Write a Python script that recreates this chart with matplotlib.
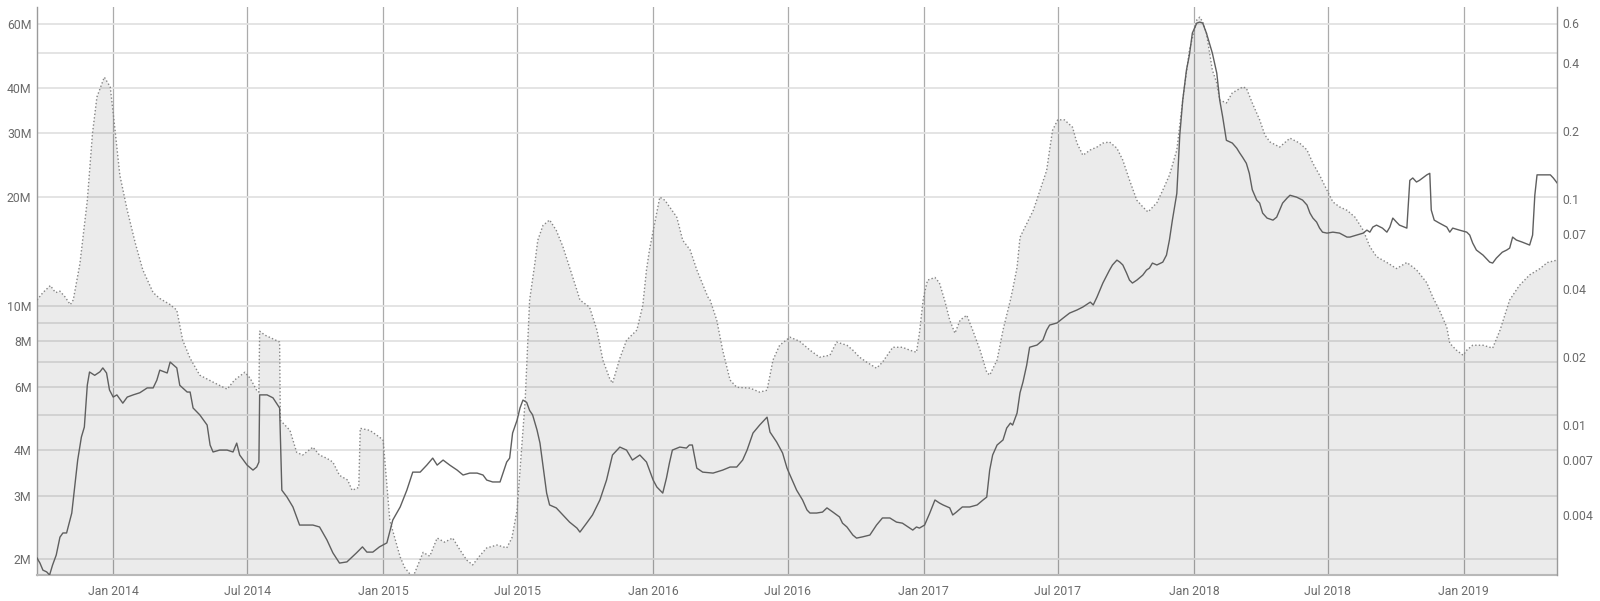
import matplotlib
matplotlib.use('Agg')
import matplotlib.pyplot as plt
import matplotlib.dates as mdates
from matplotlib.ticker import FixedLocator, FixedFormatter, NullFormatter
import numpy as np
import pandas as pd

plt.rcParams['font.family'] = ['Roboto', 'DejaVu Sans']

# ---- dotted / shaded series (left axis, millions) ----
area_dates = [
 '2013-09-20','2013-09-28','2013-10-08','2013-10-15','2013-10-21','2013-10-28','2013-11-04','2013-11-08',
 '2013-11-17','2013-11-27','2013-12-04','2013-12-10','2013-12-20','2013-12-28','2014-01-02','2014-01-10',
 '2014-01-20','2014-01-31','2014-02-10','2014-02-24','2014-03-05','2014-03-19','2014-03-28','2014-04-05',
 '2014-04-15','2014-04-28','2014-05-16','2014-06-04','2014-06-14','2014-06-28','2014-07-05','2014-07-14',
 '2014-07-17','2014-07-18','2014-07-25','2014-08-03','2014-08-14','2014-08-15','2014-08-28','2014-09-06',
 '2014-09-14','2014-09-28','2014-10-07','2014-10-17','2014-10-25','2014-11-03','2014-11-14','2014-11-20',
 '2014-11-26','2014-11-29','2014-12-01','2014-12-14','2014-12-27','2015-01-01','2015-01-10','2015-01-24',
 '2015-01-30','2015-02-10','2015-02-17','2015-02-24','2015-03-05','2015-03-15','2015-03-25','2015-04-05',
 '2015-04-15','2015-04-24','2015-05-02','2015-05-12','2015-05-21','2015-06-04','2015-06-17','2015-06-24',
 '2015-07-01','2015-07-05','2015-07-12','2015-07-18','2015-07-25','2015-07-29','2015-08-05','2015-08-14',
 '2015-08-23','2015-09-01','2015-09-10','2015-09-21','2015-09-24','2015-10-07','2015-10-17','2015-10-25',
 '2015-11-03','2015-11-07','2015-11-17','2015-11-26','2015-12-10','2015-12-18','2015-12-23','2015-12-27',
 '2016-01-03','2016-01-10','2016-01-17','2016-01-24','2016-02-02','2016-02-10','2016-02-20','2016-02-29',
 '2016-03-15','2016-03-18','2016-03-27','2016-04-04','2016-04-14','2016-04-23','2016-05-11','2016-05-24',
 '2016-06-03','2016-06-11','2016-06-20','2016-07-04','2016-07-17','2016-07-31','2016-08-13','2016-08-27',
 '2016-09-05','2016-09-19','2016-09-27','2016-10-06','2016-10-16','2016-10-29','2016-11-06','2016-11-20',
 '2016-12-03','2016-12-13','2016-12-22','2016-12-26','2016-12-31','2017-01-02','2017-01-06','2017-01-16',
 '2017-01-22','2017-01-29','2017-02-05','2017-02-12','2017-02-19','2017-02-28','2017-03-08','2017-03-18',
 '2017-03-27','2017-03-31','2017-04-10','2017-04-18','2017-04-28','2017-05-01','2017-05-07','2017-05-11',
 '2017-05-20','2017-05-29','2017-06-07','2017-06-16','2017-06-20','2017-06-24','2017-07-01','2017-07-10',
 '2017-07-21','2017-07-27','2017-08-04','2017-08-14','2017-08-23','2017-08-31','2017-09-09','2017-09-19',
 '2017-09-27','2017-10-06','2017-10-16','2017-10-24','2017-10-31','2017-11-12','2017-11-20','2017-11-29',
 '2017-12-09','2017-12-17','2017-12-26','2018-01-05','2018-01-09','2018-01-13','2018-01-18','2018-01-26',
 '2018-02-01','2018-02-05','2018-02-14','2018-02-22','2018-03-08','2018-03-13','2018-03-21','2018-03-31',
 '2018-04-07','2018-04-14','2018-04-27','2018-05-11','2018-05-24','2018-06-03','2018-06-11','2018-06-20',
 '2018-06-30','2018-07-08','2018-07-17','2018-07-27','2018-08-07','2018-08-18','2018-08-27','2018-09-05',
 '2018-09-19','2018-10-02','2018-10-16','2018-10-29','2018-11-12','2018-11-20','2018-11-29','2018-12-09',
 '2018-12-13','2018-12-22','2018-12-31','2019-01-05','2019-01-13','2019-01-27','2019-02-09','2019-02-19',
 '2019-03-04','2019-03-17','2019-03-31','2019-04-14','2019-04-24','2019-05-07']
area_values_m = [
 10.4,10.9,11.4,10.9,11.0,10.6,10.1,10.4,
 13.1,19.6,30.0,37.8,42.9,40.3,32.7,23.0,
 18.4,14.9,12.6,10.9,10.5,10.1,9.75,8.05,
 7.18,6.45,6.17,5.90,6.25,6.57,6.33,5.86,
 5.79,8.53,8.32,8.16,7.96,4.84,4.54,3.95,
 3.88,4.08,3.88,3.80,3.71,3.41,3.31,3.10,
 3.14,3.16,4.60,4.54,4.35,4.26,2.56,2.03,
 1.90,1.78,1.93,2.09,2.04,2.29,2.23,2.29,
 2.12,1.99,1.93,2.05,2.15,2.19,2.15,2.29,
 2.73,3.52,5.50,10.4,13.1,15.2,16.7,17.3,
 16.2,14.6,12.8,10.9,10.4,9.94,8.59,7.10,
 6.33,6.13,7.18,8.05,8.59,10.06,12.6,14.3,
 16.9,20.0,19.6,18.7,17.6,15.2,14.3,12.6,
 10.6,10.4,9.15,7.56,6.25,5.97,5.94,5.79,
 5.86,7.10,7.80,8.21,8.00,7.56,7.23,7.32,
 7.96,7.80,7.56,7.23,7.00,6.74,7.00,7.70,
 7.70,7.56,7.46,8.42,10.4,10.9,11.8,12.0,
 11.6,10.4,9.15,8.42,9.15,9.44,8.59,7.56,
 6.57,6.45,7.10,8.59,10.4,11.1,12.8,15.5,
 16.9,18.4,20.9,23.7,27.0,30.6,32.7,32.7,
 31.2,28.2,26.1,27.0,27.5,28.2,28.4,27.3,
 25.3,22.3,19.6,18.8,18.2,19.3,20.9,23.0,
 27.0,37.1,50.9,61.7,62.8,60.9,56.8,44.9,
 41.3,37.1,36.4,38.8,40.3,40.0,36.4,32.7,
 29.7,28.4,27.5,29.1,28.2,27.0,24.8,23.0,
 20.9,19.4,18.8,18.4,17.6,16.2,14.6,13.7,
 13.2,12.7,13.2,12.6,11.6,10.6,9.75,8.75,
 7.90,7.56,7.32,7.56,7.80,7.80,7.66,8.59,
 10.4,11.4,12.2,12.7,13.2,13.4]

# ---- solid series (right axis) ----
line_dates = [
 '2013-09-20','2013-09-24','2013-09-28','2013-10-03','2013-10-07','2013-10-11','2013-10-16','2013-10-21',
 '2013-10-25','2013-10-30','2013-11-06','2013-11-10','2013-11-14','2013-11-19','2013-11-23','2013-11-27',
 '2013-11-30','2013-12-07','2013-12-14','2013-12-18','2013-12-23','2013-12-27','2014-01-01','2014-01-06',
 '2014-01-14','2014-01-20','2014-01-28','2014-02-06','2014-02-16','2014-02-24','2014-03-01','2014-03-05',
 '2014-03-15','2014-03-19','2014-03-28','2014-04-01','2014-04-11','2014-04-15','2014-04-19','2014-04-28',
 '2014-05-08','2014-05-12','2014-05-16','2014-05-25','2014-06-04','2014-06-12','2014-06-17','2014-06-21',
 '2014-07-01','2014-07-09','2014-07-14','2014-07-17','2014-07-18','2014-07-28','2014-08-05','2014-08-14',
 '2014-08-17','2014-08-24','2014-09-01','2014-09-10','2014-09-20','2014-09-28','2014-10-07','2014-10-17',
 '2014-10-25','2014-11-03','2014-11-13','2014-11-26','2014-12-04','2014-12-10','2014-12-18','2014-12-27',
 '2015-01-06','2015-01-14','2015-01-24','2015-02-02','2015-02-10','2015-02-20','2015-03-01','2015-03-09',
 '2015-03-15','2015-03-23','2015-04-01','2015-04-11','2015-04-19','2015-04-28','2015-05-08','2015-05-16',
 '2015-05-21','2015-05-29','2015-06-08','2015-06-17','2015-06-21','2015-06-25','2015-07-01','2015-07-05',
 '2015-07-09','2015-07-14','2015-07-18','2015-07-22','2015-07-28','2015-08-01','2015-08-05','2015-08-10',
 '2015-08-14','2015-08-23','2015-09-01','2015-09-10','2015-09-20','2015-09-24','2015-10-03','2015-10-11',
 '2015-10-21','2015-10-30','2015-11-07','2015-11-17','2015-11-26','2015-12-04','2015-12-14','2015-12-23',
 '2016-01-01','2016-01-06','2016-01-14','2016-01-19','2016-01-23','2016-01-27','2016-02-06','2016-02-15',
 '2016-02-19','2016-02-23','2016-02-29','2016-03-08','2016-03-22','2016-04-04','2016-04-14','2016-04-23',
 '2016-05-01','2016-05-07','2016-05-15','2016-05-24','2016-06-03','2016-06-07','2016-06-16','2016-06-24',
 '2016-06-30','2016-07-04','2016-07-13','2016-07-21','2016-07-27','2016-07-31','2016-08-09','2016-08-17',
 '2016-08-23','2016-08-31','2016-09-09','2016-09-13','2016-09-19','2016-09-27','2016-10-02','2016-10-10',
 '2016-10-20','2016-10-29','2016-11-06','2016-11-16','2016-11-25','2016-12-03','2016-12-17','2016-12-22',
 '2016-12-26','2017-01-02','2017-01-09','2017-01-16','2017-01-22','2017-01-27','2017-02-05','2017-02-09',
 '2017-02-14','2017-02-22','2017-03-04','2017-03-14','2017-03-22','2017-03-27','2017-03-31','2017-04-04',
 '2017-04-10','2017-04-18','2017-04-23','2017-04-28','2017-05-01','2017-05-07','2017-05-11','2017-05-15',
 '2017-05-20','2017-05-24','2017-06-03','2017-06-11','2017-06-16','2017-06-20','2017-06-30','2017-07-08',
 '2017-07-17','2017-07-27','2017-08-04','2017-08-14','2017-08-18','2017-08-23','2017-08-31','2017-09-09',
 '2017-09-13','2017-09-19','2017-09-23','2017-09-27','2017-10-02','2017-10-06','2017-10-10','2017-10-16',
 '2017-10-24','2017-10-29','2017-11-02','2017-11-06','2017-11-12','2017-11-20','2017-11-25','2017-11-29',
 '2017-12-03','2017-12-09','2017-12-13','2017-12-17','2017-12-22','2017-12-26','2017-12-30','2018-01-05',
 '2018-01-09','2018-01-13','2018-01-18','2018-01-22','2018-01-26','2018-02-01','2018-02-05','2018-02-09',
 '2018-02-14','2018-02-22','2018-02-28','2018-03-04','2018-03-08','2018-03-13','2018-03-17','2018-03-21',
 '2018-03-27','2018-03-31','2018-04-04','2018-04-10','2018-04-18','2018-04-23','2018-04-27','2018-05-01',
 '2018-05-07','2018-05-11','2018-05-20','2018-05-28','2018-06-03','2018-06-07','2018-06-11','2018-06-16',
 '2018-06-20','2018-06-24','2018-06-30','2018-07-08','2018-07-17','2018-07-27','2018-07-31','2018-08-09',
 '2018-08-18','2018-08-23','2018-08-27','2018-08-31','2018-09-05','2018-09-13','2018-09-19','2018-09-23',
 '2018-09-27','2018-10-02','2018-10-06','2018-10-16','2018-10-20','2018-10-24','2018-10-29','2018-11-02',
 '2018-11-12','2018-11-16','2018-11-18','2018-11-22','2018-11-29','2018-12-09','2018-12-13','2018-12-17',
 '2018-12-26','2019-01-05','2019-01-09','2019-01-13','2019-01-18','2019-01-27','2019-02-05','2019-02-09',
 '2019-02-14','2019-02-18','2019-02-22','2019-02-28','2019-03-04','2019-03-08','2019-03-13','2019-03-21',
 '2019-03-31','2019-04-04','2019-04-07','2019-04-10','2019-04-18','2019-04-28','2019-05-02','2019-05-07']
line_values = [
 0.00258,0.00245,0.00228,0.00224,0.00217,0.00240,0.00266,0.00319,
 0.00333,0.00333,0.00408,0.00532,0.00700,0.00885,0.00980,0.01503,
 0.01717,0.0166,0.0172,0.0179,0.0170,0.0143,0.0133,0.0136,
 0.0125,0.0133,0.0136,0.0139,0.0146,0.0146,0.0158,0.0175,
 0.0170,0.0190,0.0179,0.0150,0.0140,0.0140,0.0119,0.0111,
 0.0100,0.00816,0.00760,0.00775,0.00775,0.00760,0.00832,0.00737,
 0.00665,0.00632,0.00652,0.00686,0.0136,0.0136,0.0132,0.0119,
 0.00515,0.00480,0.00434,0.00361,0.00361,0.00361,0.00354,0.00310,
 0.00272,0.00245,0.00248,0.00272,0.00289,0.00274,0.00274,0.00289,
 0.00301,0.00380,0.00434,0.00515,0.00619,0.00619,0.00665,0.00714,
 0.00665,0.00700,0.00665,0.00632,0.00601,0.00613,0.00613,0.00601,
 0.00571,0.00560,0.00560,0.00686,0.00714,0.00922,0.0105,0.0119,
 0.0129,0.0126,0.0116,0.0111,0.00951,0.00832,0.00665,0.00500,
 0.00443,0.00430,0.00400,0.00372,0.00350,0.00336,0.00368,0.00400,
 0.00466,0.00571,0.00737,0.00799,0.00775,0.00700,0.00737,0.00686,
 0.00571,0.00532,0.00500,0.00583,0.00679,0.00775,0.00799,0.00791,
 0.00816,0.00816,0.00645,0.00619,0.00613,0.00632,0.00652,0.00652,
 0.00700,0.00775,0.00922,0.0100,0.01084,0.00931,0.00841,0.00752,
 0.00645,0.00601,0.00515,0.00466,0.00421,0.00408,0.00408,0.00412,
 0.00430,0.00412,0.00392,0.00368,0.00354,0.00326,0.00316,0.00320,
 0.00326,0.00361,0.00388,0.00388,0.00372,0.00368,0.00343,0.00354,
 0.00350,0.00361,0.00408,0.00466,0.00452,0.00443,0.00430,0.00400,
 0.00412,0.00434,0.00434,0.00443,0.00466,0.00480,0.00632,0.00737,
 0.00816,0.00859,0.00970,0.0102,0.0100,0.0113,0.0139,0.0155,
 0.0184,0.0221,0.0226,0.0238,0.0263,0.0277,0.0283,0.0297,
 0.0313,0.0323,0.0333,0.0350,0.0340,0.0368,0.0425,0.0485,
 0.0511,0.0537,0.0526,0.0511,0.0471,0.0438,0.0425,0.0438,
 0.0461,0.0485,0.0495,0.0521,0.0511,0.0526,0.0565,0.0659,
 0.0807,0.106,0.192,0.274,0.372,0.434,0.543,0.601,
 0.607,0.601,0.543,0.490,0.443,0.361,0.274,0.231,
 0.182,0.177,0.168,0.160,0.153,0.144,0.130,0.110,
 0.0990,0.0960,0.0867,0.0824,0.0807,0.0832,0.0894,0.0960,
 0.101,0.104,0.102,0.0990,0.0941,0.0867,0.0824,0.0791,
 0.0744,0.0714,0.0707,0.0714,0.0707,0.0679,0.0679,0.0693,
 0.0707,0.0729,0.0714,0.0752,0.0767,0.0744,0.0714,0.0752,
 0.0824,0.0791,0.0767,0.0744,0.121,0.124,0.119,0.121,
 0.128,0.130,0.0894,0.0807,0.0783,0.0752,0.0714,0.0744,
 0.0729,0.0714,0.0693,0.0639,0.0595,0.0565,0.0526,0.0521,
 0.0548,0.0565,0.0582,0.0595,0.0607,0.0679,0.0659,0.0645,
 0.0626,0.0693,0.104,0.128,0.128,0.128,0.124,0.118]

# ---- axes ticks ----
left_ticks_m = [2, 3, 4, 6, 8, 10, 20, 30, 40, 60]
left_tick_labels = ['2M', '3M', '4M', '6M', '8M', '10M', '20M', '30M', '40M', '60M']
left_minor_m = [5, 7, 9, 50]
right_ticks = [0.004, 0.007, 0.01, 0.02, 0.04, 0.07, 0.1, 0.2, 0.4, 0.6]
right_tick_labels = ['0.004', '0.007', '0.01', '0.02', '0.04', '0.07', '0.1', '0.2', '0.4', '0.6']
x_tick_dates = ['2014-01-01', '2014-07-01', '2015-01-01', '2015-07-01', '2016-01-01', '2016-07-01',
                '2017-01-01', '2017-07-01', '2018-01-01', '2018-07-01', '2019-01-01']
x_range = ['2013-09-20', '2019-05-07']
left_range_m = (1.81, 67.0)
right_range = (0.00217, 0.708)

label_color = '#6b6b6b'
fs = 8.8

fig = plt.figure(figsize=(16, 6.01), dpi=100)
ax1 = fig.add_axes([0.02313, 0.04326, 0.95, 0.94509])
ax2 = ax1.twinx()

ad = pd.to_datetime(area_dates)
av = np.array(area_values_m) * 1e6
ax1.set_yscale('log')
ax1.fill_between(ad, av, 1e5, color='black', alpha=0.078, linewidth=0, zorder=1)
ax1.plot(ad, av, color='#858585', lw=1.0, ls=(0, (1, 1.6)), zorder=3)
ax1.set_ylim(left_range_m[0] * 1e6, left_range_m[1] * 1e6)
ax1.set_xlim(pd.Timestamp(x_range[0]), pd.Timestamp(x_range[1]))

ax1.yaxis.set_major_locator(FixedLocator([v * 1e6 for v in left_ticks_m]))
ax1.yaxis.set_major_formatter(FixedFormatter(left_tick_labels))
ax1.yaxis.set_minor_locator(FixedLocator([v * 1e6 for v in left_minor_m]))
ax1.yaxis.set_minor_formatter(NullFormatter())
ax1.set_axisbelow(True)
ax1.yaxis.grid(True, which='both', color='#e2e2e2', lw=1.3)
ax1.xaxis.set_major_locator(FixedLocator(mdates.date2num(pd.to_datetime(x_tick_dates))))
ax1.xaxis.set_major_formatter(mdates.DateFormatter('%b %Y'))
ax1.xaxis.grid(True, color='#ababab', lw=0.9)
ax1.tick_params(axis='y', which='both', length=0, pad=4, labelsize=fs, labelcolor=label_color)
ax1.tick_params(axis='x', length=0, pad=7, labelsize=fs, labelcolor=label_color)

ld = pd.to_datetime(line_dates)
ax2.set_yscale('log')
ax2.plot(ld, line_values, color='#5f5f5f', lw=1.0, zorder=4)
ax2.set_ylim(*right_range)
ax2.yaxis.set_major_locator(FixedLocator(right_ticks))
ax2.yaxis.set_major_formatter(FixedFormatter(right_tick_labels))
ax2.yaxis.set_minor_locator(FixedLocator([]))
ax2.yaxis.set_minor_formatter(NullFormatter())
ax2.tick_params(axis='y', which='both', length=0, pad=4, labelsize=fs, labelcolor=label_color)
ax2.grid(False)

for ax in (ax1, ax2):
    ax.spines['top'].set_visible(False)
ax1.spines['right'].set_visible(False)
ax2.spines['left'].set_visible(False)
ax2.spines['bottom'].set_visible(False)
ax1.spines['left'].set_color('#9a9a9a')
ax1.spines['left'].set_linewidth(1.0)
ax2.spines['right'].set_color('#9a9a9a')
ax2.spines['right'].set_linewidth(1.0)
ax1.spines['bottom'].set_color('#b8b8b8')
ax1.spines['bottom'].set_linewidth(1.5)

fig.savefig('out.png', dpi=100)
